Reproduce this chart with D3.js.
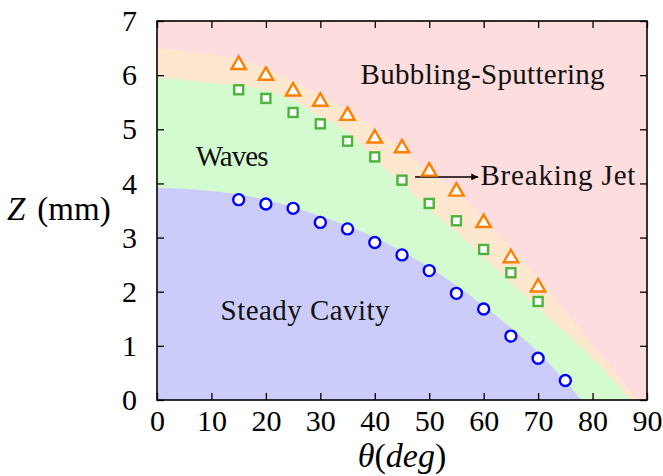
<!DOCTYPE html>
<html>
<head>
<meta charset="utf-8">
<script src="https://cdn.jsdelivr.net/npm/d3@7"></script>
<style>
body{margin:0;background:#fff;}
text{font-family:"Liberation Serif","DejaVu Serif",serif;}
</style>
</head>
<body>
<svg id="chart"></svg>
<script>
// measured points
var angles=[15,20,25,30,35,40,45,50,55,60,65,70,75];
var steadyZ=[3.70,3.62,3.54,3.28,3.16,2.91,2.68,2.39,1.97,1.68,1.18,0.77,0.36];
var waveZ=[5.73,5.57,5.31,5.10,4.78,4.49,4.06,3.63,3.31,2.78,2.35,1.82];
var jetZ=[6.21,6.01,5.72,5.53,5.27,4.85,4.67,4.24,3.87,3.29,2.64,2.10];

// regime boundaries
var blueEdgeT=[0,10,20,30,40,50,60,70,78];
var blueEdgeZ=[3.92,3.86,3.70,3.40,3.00,2.45,1.74,0.88,0];
var greenEdgeT=[0,8,15,20,25,30,35,40,45,50,55,60,65,70,80,87];
var greenEdgeZ=[5.96,5.88,5.81,5.72,5.53,5.23,4.95,4.45,4.00,3.53,3.10,2.64,2.17,1.70,0.76,0];
var orangeEdgeT=[0,8,15,20,25,30,35,40,45,50,55,60,65,70,80,88.2];
var orangeEdgeZ=[6.51,6.40,6.30,6.12,5.90,5.63,5.35,5.00,4.62,4.21,3.86,3.35,2.80,2.25,1.02,0];

var xTicks=[0,10,20,30,40,50,60,70,80,90];
var yTicks=[0,1,2,3,4,5,6,7];

var drawChart=function(){
var width=663;
var height=476;
var pl=157, pr=647, pt=21, pb=400;

var svg=d3.select("#chart")
.attr("width",width)
.attr("height",height);

var x=d3.scaleLinear().domain([0,90]).range([pl,pr]);
var y=d3.scaleLinear().domain([0,7]).range([pb,pt]);

var toPts=function(ts,zs){
  return ts.map(function(t,i){return {t:t,z:zs[i]};});
};

svg.append("clipPath").attr("id","plotclip")
.append("rect")
.attr("x",pl).attr("y",pt)
.attr("width",pr-pl).attr("height",pb-pt);

var g=svg.append("g").attr("clip-path","url(#plotclip)");

g.append("rect")
.attr("x",pl).attr("y",pt)
.attr("width",pr-pl).attr("height",pb-pt)
.attr("fill","#fddddd");

var area=d3.area()
.x(function(d){return x(d.t);})
.y0(y(0))
.y1(function(d){return y(d.z);})
.curve(d3.curveMonotoneX);

g.append("path").datum(toPts(orangeEdgeT,orangeEdgeZ))
.attr("d",area).attr("fill","#fde7cf");
g.append("path").datum(toPts(greenEdgeT,greenEdgeZ))
.attr("d",area).attr("fill","#d4fbd0");
g.append("path").datum(toPts(blueEdgeT,blueEdgeZ))
.attr("d",area).attr("fill","#ccccfb");

// region labels
var labels=[
  {txt:"Bubbling-Sputtering",t:59.8,z:5.84,anchor:"middle",w:244},
  {txt:"Waves",t:13.8,z:4.33,anchor:"middle",w:73},
  {txt:"Steady Cavity",t:27.2,z:1.48,anchor:"middle",w:169},
  {txt:"Breaking Jet",t:59.4,z:3.98,anchor:"start",w:155}
];
svg.selectAll("text.region")
.data(labels)
.enter()
.append("text")
.attr("class","region")
.attr("x",function(d){return x(d.t);})
.attr("y",function(d){return y(d.z);})
.attr("text-anchor",function(d){return d.anchor;})
.attr("font-size","29px")
.attr("textLength",function(d){return d.w;})
.attr("lengthAdjust","spacing")
.attr("fill","#111")
.text(function(d){return d.txt;});

// arrow to Breaking Jet
svg.append("defs").append("marker")
.attr("id","head")
.attr("viewBox","0 0 10 10")
.attr("refX",10).attr("refY",5)
.attr("markerWidth",10).attr("markerHeight",7)
.attr("markerUnits","userSpaceOnUse")
.attr("orient","auto")
.append("path").attr("d","M0,0L10,5L0,10z").attr("fill","#000");
svg.append("line")
.attr("x1",x(47.4)).attr("x2",x(59.0))
.attr("y1",y(4.12)).attr("y2",y(4.12))
.attr("stroke","#000").attr("stroke-width",1.6)
.attr("marker-end","url(#head)");

// markers
svg.selectAll("circle.steady")
.data(steadyZ)
.enter()
.append("circle")
.attr("class","steady")
.attr("cx",function(d,i){return x(angles[i]);})
.attr("cy",function(d){return y(d);})
.attr("r",5.5)
.attr("fill","#fff")
.attr("stroke","#0000ff")
.attr("stroke-width",2.4);

svg.selectAll("rect.wave")
.data(waveZ)
.enter()
.append("rect")
.attr("class","wave")
.attr("x",function(d,i){return x(angles[i])-4.5;})
.attr("y",function(d){return y(d)-4.5;})
.attr("width",9).attr("height",9)
.attr("fill","#fff")
.attr("stroke","#4cb33c")
.attr("stroke-width",2.4);

var tri=d3.symbol().type(d3.symbolTriangle).size(90);
svg.selectAll("path.jet")
.data(jetZ)
.enter()
.append("path")
.attr("class","jet")
.attr("d",tri)
.attr("transform",function(d,i){return "translate("+x(angles[i])+","+(y(d)+1)+")";})
.attr("fill","#fff")
.attr("stroke","#ff8000")
.attr("stroke-width",2.4);

// axes, ticks pointing inward on all sides
var xAxis=d3.axisBottom(x).tickValues(xTicks).tickFormat(d3.format("d"))
.tickSizeInner(-7).tickSizeOuter(0).tickPadding(10);
var yAxis=d3.axisLeft(y).tickValues(yTicks).tickFormat(d3.format("d"))
.tickSizeInner(-7).tickSizeOuter(0).tickPadding(20);
var xTop=d3.axisTop(x).tickValues(xTicks).tickSizeInner(-7).tickSizeOuter(0).tickFormat("");
var yRight=d3.axisRight(y).tickValues(yTicks).tickSizeInner(-7).tickSizeOuter(0).tickFormat("");

var gx=svg.append("g").attr("transform","translate(0,"+pb+")").call(xAxis);
var gy=svg.append("g").attr("transform","translate("+pl+",0)").call(yAxis);
svg.append("g").attr("transform","translate(0,"+pt+")").call(xTop);
svg.append("g").attr("transform","translate("+pr+",0)").call(yRight);

svg.selectAll(".domain").remove();
svg.selectAll(".tick line").attr("stroke","#000").attr("stroke-width",1.3);
gx.selectAll("text").attr("font-size","30px").attr("fill","#000")
.attr("font-family","Liberation Serif, serif");
gy.selectAll("text").attr("font-size","30px").attr("fill","#000")
.attr("font-family","Liberation Serif, serif");

svg.append("rect")
.attr("x",pl).attr("y",pt)
.attr("width",pr-pl).attr("height",pb-pt)
.attr("fill","none")
.attr("stroke","#000")
.attr("stroke-width",1.6);

// axis titles
var xt=svg.append("text")
.attr("x",(pl+pr)/2)
.attr("y",467)
.attr("text-anchor","middle")
.attr("font-size","34px");
xt.append("tspan").attr("font-style","italic").text("θ");
xt.append("tspan").text("(");
xt.append("tspan").attr("font-style","italic").text("deg");
xt.append("tspan").text(")");

var yt=svg.append("text")
.attr("x",7)
.attr("y",220)
.attr("font-size","33px");
yt.append("tspan").attr("font-style","italic").text("Z");
yt.append("tspan").attr("dx",12).text("(mm)");
};

drawChart();
</script>
</body>
</html>
